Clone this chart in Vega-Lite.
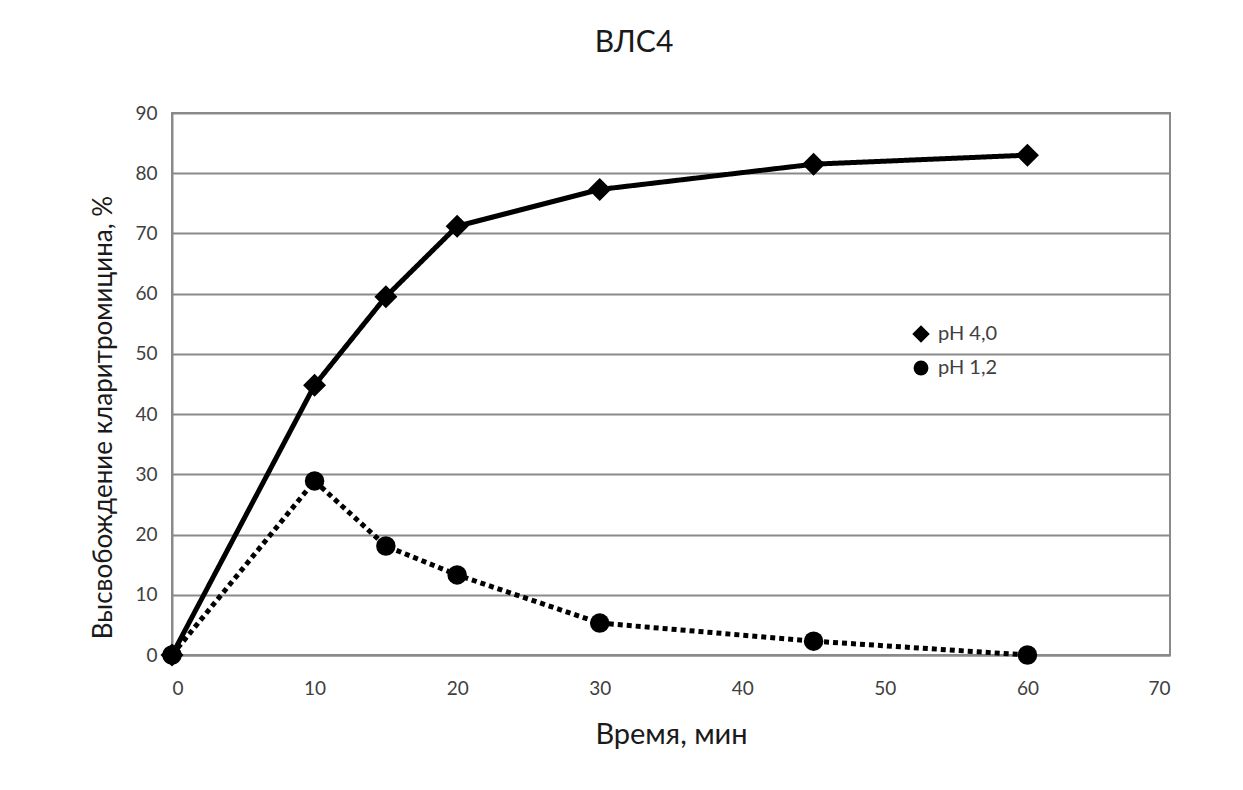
{
  "$schema": "https://vega.github.io/schema/vega-lite/v6.json",
  "width": 998,
  "height": 542,
  "autosize": {"type": "none"},
  "padding": {"left": 172, "top": 113, "right": 73, "bottom": 135},
  "background": "white",
  "title": {
    "text": "ВЛС4",
    "font": "Lato",
    "fontSize": 30,
    "fontWeight": "normal",
    "color": "#1a1a1a",
    "anchor": "middle",
    "dx": -37,
    "offset": 46
  },
  "data": {
    "values": [
      {"series": "pH 4,0", "time": 0, "release": 0},
      {"series": "pH 4,0", "time": 10, "release": 44.8},
      {"series": "pH 4,0", "time": 15, "release": 59.5},
      {"series": "pH 4,0", "time": 20, "release": 71.2},
      {"series": "pH 4,0", "time": 30, "release": 77.3},
      {"series": "pH 4,0", "time": 45, "release": 81.5},
      {"series": "pH 4,0", "time": 60, "release": 83},
      {"series": "pH 1,2", "time": 0, "release": 0},
      {"series": "pH 1,2", "time": 10, "release": 28.9},
      {"series": "pH 1,2", "time": 15, "release": 18.1},
      {"series": "pH 1,2", "time": 20, "release": 13.3},
      {"series": "pH 1,2", "time": 30, "release": 5.3},
      {"series": "pH 1,2", "time": 45, "release": 2.3},
      {"series": "pH 1,2", "time": 60, "release": 0}
    ]
  },
  "encoding": {
    "x": {
      "field": "time",
      "type": "quantitative",
      "scale": {"domain": [0, 70], "nice": false},
      "axis": {
        "title": "Время, мин",
        "titleFontSize": 29,
        "values": [0, 10, 20, 30, 40, 50, 60, 70],
        "grid": false,
        "ticks": false,
        "labelPadding": 24,
        "titlePadding": 22
      }
    },
    "y": {
      "field": "release",
      "type": "quantitative",
      "scale": {"domain": [0, 90], "nice": false},
      "axis": {
        "title": "Высвобождение кларитромицина, %",
        "titleFontSize": 26,
        "titleY": 304,
        "values": [0, 10, 20, 30, 40, 50, 60, 70, 80, 90],
        "grid": true,
        "ticks": false,
        "labelPadding": 15,
        "titlePadding": 18
      }
    }
  },
  "layer": [
    {
      "mark": {"type": "line", "color": "black", "strokeWidth": 5},
      "encoding": {
        "strokeDash": {
          "field": "series",
          "type": "nominal",
          "scale": {"domain": ["pH 4,0", "pH 1,2"], "range": [[1, 0], [5, 4]]}
        }
      }
    },
    {
      "mark": {"type": "point", "filled": true, "color": "black", "opacity": 1, "size": 380},
      "encoding": {
        "shape": {
          "field": "series",
          "type": "nominal",
          "scale": {
            "domain": ["pH 4,0", "pH 1,2"],
            "range": ["M0,-1.18L1.18,0L0,1.18L-1.18,0Z", "circle"]
          }
        }
      }
    }
  ],
  "config": {
    "font": "Lato",
    "view": {"stroke": "#8a8a8a", "strokeWidth": 2},
    "axis": {
      "domainColor": "#8a8a8a",
      "domainWidth": 2,
      "gridColor": "#8a8a8a",
      "gridWidth": 2,
      "labelFont": "Lato",
      "labelFontSize": 19,
      "labelColor": "#404040",
      "titleFont": "Lato",
      "titleFontWeight": "normal",
      "titleColor": "#1a1a1a"
    },
    "legend": {
      "title": null,
      "orient": "none",
      "legendX": 739,
      "legendY": 211,
      "padding": 0,
      "symbolSize": 220,
      "symbolFillColor": "black",
      "symbolStrokeColor": "black",
      "symbolStrokeWidth": 1,
      "symbolDash": [1, 0],
      "labelFont": "Lato",
      "labelFontSize": 20,
      "labelColor": "#404040",
      "rowPadding": 13,
      "labelOffset": 7
    }
  }
}
